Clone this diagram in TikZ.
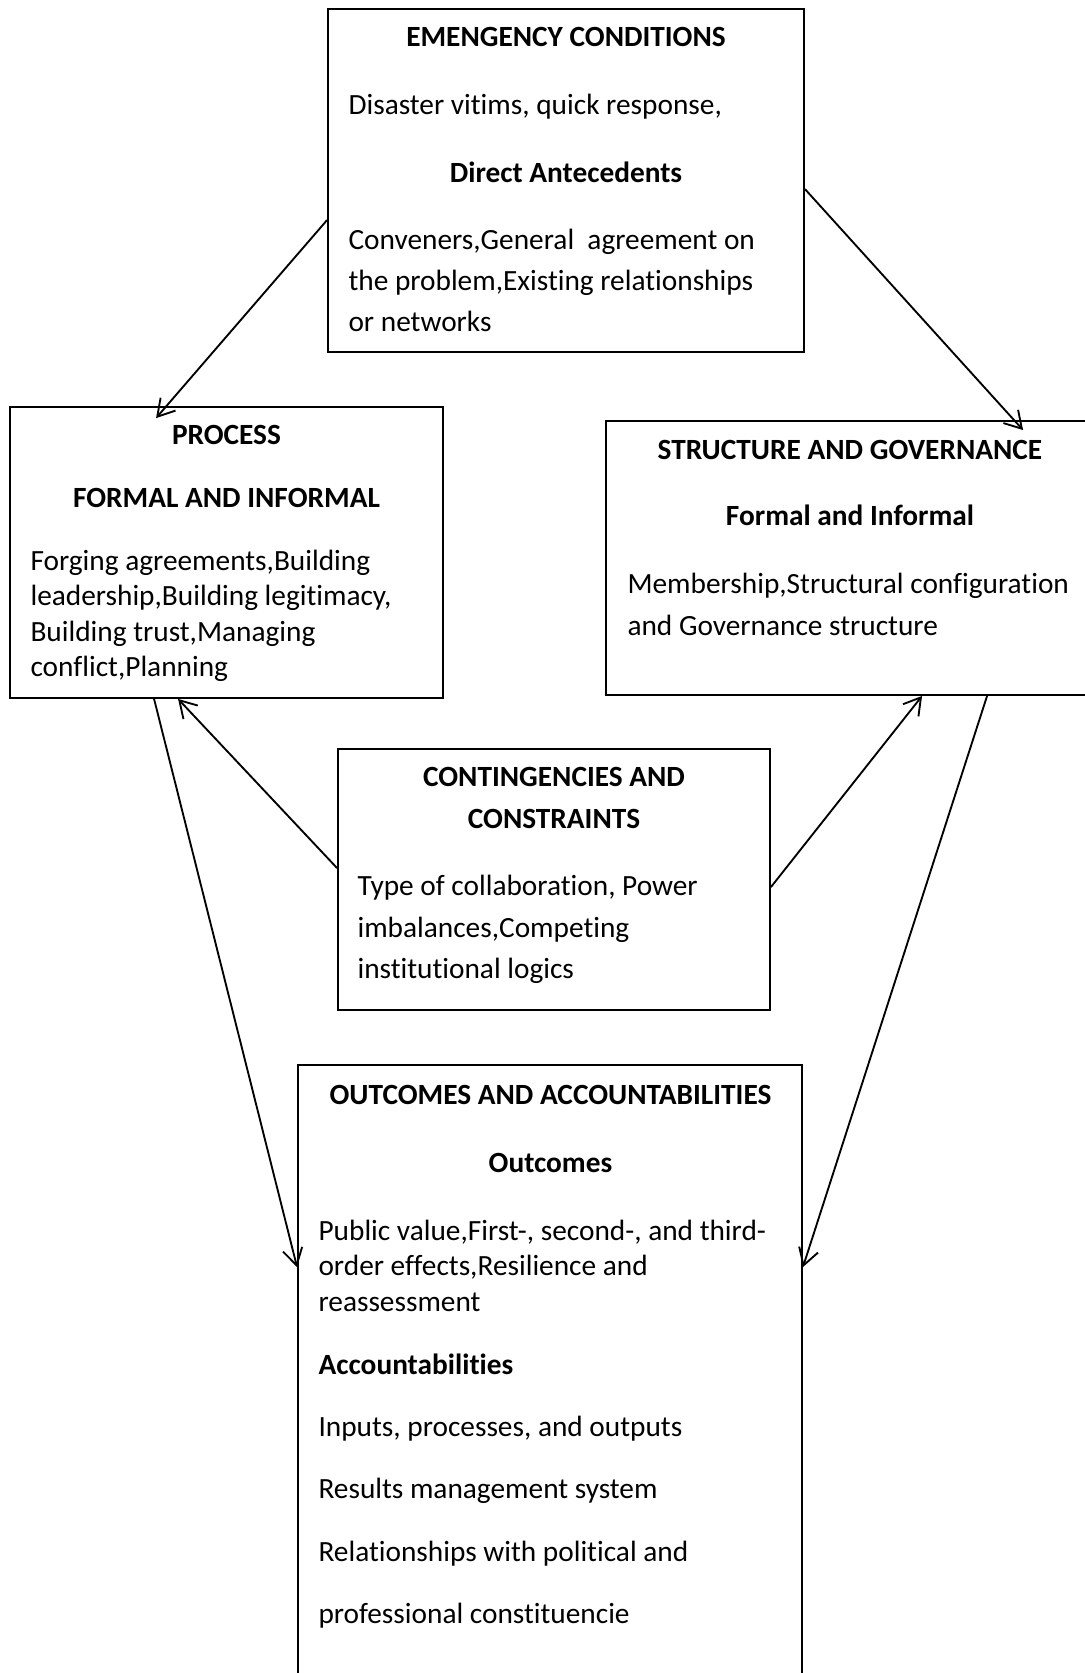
\documentclass[tikz,border=0pt]{standalone}
\usepackage{fontspec}
\setmainfont{Carlito}[Ligatures=NoCommon]
\usetikzlibrary{arrows.meta, calc, fit}

\begin{document}
\begin{tikzpicture}[x=0.375pt, y=-0.375pt,
    panel/.style={draw, inner sep=0pt, line width=0.7pt},
    heading/.style={anchor=base, inner sep=0pt, font=\fontsize{11}{15.6}\selectfont\bfseries, align=center},
    body/.style={anchor=base west, inner sep=0pt, align=left, font=\fontsize{11}{15.4}\selectfont},
    link/.style={-{Straight Barb[length=6.2pt, width=7.4pt]}, line width=0.7pt}]
    \useasboundingbox (0,0) rectangle (1085,1673);
    \clip (0,0) rectangle (1085,1673);

    % Cadres
    \node[panel, fit={(328,9) (804,352)}] (emg) {};
    \node[panel, fit={(10,407) (443,698)}] (proc) {};
    \node[panel, fit={(606,421) (1095,695)}] (strc) {};
    \node[panel, fit={(338,749) (770,1010)}] (cont) {};
    \node[panel, fit={(298,1065) (802,1700)}] (outc) {};

    % Emergency conditions (base = last line)
    \node[heading] (emgT) at (566,47) {EMENGENCY CONDITIONS};
    \node[body] (emgA) at (348,115) {Disaster vitims, quick response,};
    \node[heading] (emgS) at (566,183) {Direct Antecedents};
    \node[body] (emgB) at (348,331.5) {Conveners,General\ \ agreement on\\the problem,Existing relationships\\or networks};

    % Process
    \node[heading] (procT) at (226.5,444) {PROCESS};
    \node[heading] (procS) at (226.5,507) {FORMAL AND INFORMAL};
    \node[body, font=\fontsize{11}{13.3}\selectfont] (procB) at (30,676.5) {Forging agreements,Building\\leadership,Building legitimacy,\\Building trust,Managing\\conflict,Planning};

    % Structure and governance
    \node[heading] (strcT) at (850,459) {STRUCTURE AND GOVERNANCE};
    \node[heading] (strcS) at (850,525) {Formal and Informal};
    \node[body, font=\fontsize{11}{15.6}\selectfont] (strcB) at (627,635) {Membership,Structural configuration\\and Governance structure};

    % Contingencies
    \node[heading] (contT) at (554,828.4) {CONTINGENCIES AND\\CONSTRAINTS};
    \node[body, font=\fontsize{11}{15.6}\selectfont] (contB) at (357,978.8) {Type of collaboration, Power\\imbalances,Competing\\institutional logics};

    % Outcomes and accountabilities
    \node[heading] (outcT) at (550.5,1104.7) {OUTCOMES AND ACCOUNTABILITIES};
    \node[heading] (outcS) at (550.5,1172) {Outcomes};
    \node[body, font=\fontsize{11}{13.4}\selectfont] (outcB) at (318,1311.6) {Public value,First-, second-, and third-\\order effects,Resilience and\\reassessment};
    \node[body, font=\fontsize{11}{15.4}\selectfont\bfseries] (outcA) at (318,1374.6) {Accountabilities};
    \node[body] (outc1) at (318,1436.5) {Inputs, processes, and outputs};
    \node[body] (outc2) at (318,1498.4) {Results management system};
    \node[body] (outc3) at (318,1561.3) {Relationships with political and};
    \node[body] (outc4) at (318,1623.2) {professional constituencie};

    % Fleches
    \draw[link] ($(emg.north west)+(0,212)$) -- ($(proc.north west)+(147,12)$);
    \draw[link] ($(emg.north east)+(0,181)$) -- ($(strc.north west)+(418,10)$);
    \draw[link] ($(proc.south west)+(145,0)$) -- ($(outc.north west)+(0,203)$);
    \draw[link] ($(strc.south west)+(382,0)$) -- ($(outc.north east)+(0,203)$);
    \draw[link] ($(cont.north west)+(0,120)$) -- ($(proc.south west)+(169,0)$);
    \draw[link] ($(cont.north east)+(0,139)$) -- ($(strc.south west)+(317,0)$);
\end{tikzpicture}
\end{document}
